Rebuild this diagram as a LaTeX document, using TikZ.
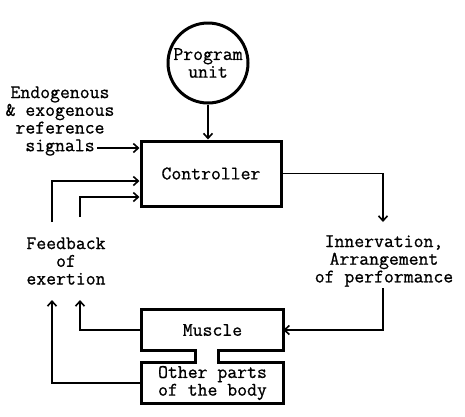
\documentclass[tikz,border=0pt]{standalone}
\usepackage{fontspec}
\newfontfamily\typewriter{Latin Modern Mono}[FakeBold=0.8]
\usetikzlibrary{positioning}
\usetikzlibrary{arrows.meta}
\begin{document}
\begin{tikzpicture}[
    x=1pt, y=-1pt,
    every node/.style={font=\typewriter\fontsize{19.2}{17.7}\selectfont},
    unit/.style={circle, draw, line width=3pt, minimum size=80pt, inner sep=0pt, align=center},
    block/.style={rectangle, draw, line width=3pt, inner sep=0pt},
    shell/.style={rectangle, inner sep=0pt, align=center},
    caption/.style={align=center, inner sep=0pt},
    >={Straight Barb[length=5pt, width=9pt, line width=1.6pt]},
    flow/.style={->, line width=1.6pt}
]
    \useasboundingbox (0,0) rectangle (465,416);

    \node[unit] (prog) at (208, 63) {Program\\unit};
    \node[block, minimum width=140pt, minimum height=65pt] (ctrl) at (211, 173.5) {Controller};

    \node[caption] (sig) at (60, 121) {Endogenous\\\& exogenous\\reference\\signals};
    \coordinate (sigend) at (97, 148);

    \node[caption] (fb) at (66, 261) {Feedback\\of\\exertion};
    \coordinate (fbA) at (52, 222);
    \coordinate (fbB) at (80, 217);
    \coordinate (fbC) at (52, 300);
    \coordinate (fbD) at (80, 300);

    \node[caption] (inn) at (384, 261) {Innervation,\\Arrangement\\of performance};
    \coordinate (innin) at (383, 222);
    \coordinate (innout) at (383, 288);

    \node[shell, minimum width=141pt, minimum height=40pt] (mus) at (212.5, 330) {Muscle};
    \node[shell, minimum width=141pt, minimum height=40pt] (oth) at (212.5, 383) {Other parts\\of the body};

    \draw[line width=3pt, line join=miter]
        (mus.north west) -- (mus.north east) -- (mus.south east)
        -- ([xshift=5.5pt]mus.south) -- ([xshift=5.5pt]oth.north)
        -- (oth.north east) -- (oth.south east) -- (oth.south west) -- (oth.north west)
        -- ([xshift=-17.5pt]oth.north) -- ([xshift=-17.5pt]mus.south)
        -- (mus.south west) -- cycle;

    \draw[flow] (prog.south) -- (prog.south |- ctrl.north);
    \draw[flow] (sigend) -- (sigend -| ctrl.west);
    \draw[flow] (fbA) |- ([yshift=-7.5pt]ctrl.west);
    \draw[flow] (fbB) |- ([yshift=-23.5pt]ctrl.west);
    \draw[flow] (ctrl.east) -| (innin);
    \draw[flow] (innout) |- (mus.east);
    \draw[flow] (mus.west) -| (fbD);
    \draw[flow] (oth.west) -| (fbC);
\end{tikzpicture}
\end{document}
